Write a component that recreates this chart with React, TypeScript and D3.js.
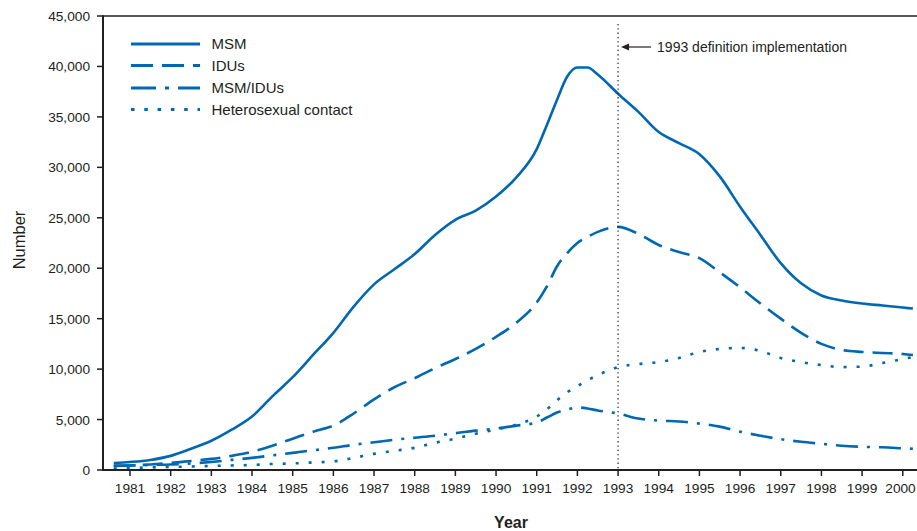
import React from "react";
import * as d3 from "d3";

const periods = [1980.6, 1981, 1981.5, 1982, 1982.5, 1983, 1983.5, 1984, 1984.5, 1985, 1985.5, 1986, 1986.5, 1987, 1987.5, 1988, 1988.5, 1989, 1989.5, 1990, 1990.5, 1991, 1991.25, 1991.5, 1991.75, 1992, 1992.25, 1992.5, 1993, 1993.5, 1994, 1994.5, 1995, 1995.5, 1996, 1996.5, 1997, 1997.5, 1998, 1998.5, 1999, 1999.5, 2000, 2000.25];

const msm = [700, 800, 1000, 1400, 2100, 2900, 4000, 5300, 7300, 9200, 11400, 13600, 16200, 18400, 19900, 21400, 23300, 24800, 25700, 27100, 29000, 31800, 34200, 36700, 39000, 39900, 39900, 39200, 37300, 35500, 33500, 32400, 31300, 29100, 26100, 23300, 20500, 18500, 17300, 16800, 16500, 16300, 16100, 16000];
const idus = [400, 450, 550, 700, 900, 1100, 1400, 1800, 2400, 3100, 3800, 4400, 5600, 7000, 8200, 9100, 10100, 11000, 12000, 13200, 14600, 16600, 18200, 20200, 21500, 22500, 23100, 23600, 24100, 23400, 22300, 21600, 21000, 19600, 18100, 16500, 15000, 13600, 12500, 11900, 11700, 11600, 11500, 11400];
const msmIdus = [450, 450, 500, 550, 650, 800, 1000, 1200, 1450, 1700, 1950, 2200, 2500, 2750, 3000, 3200, 3400, 3650, 3900, 4100, 4400, 4700, 5200, 5700, 6000, 6200, 6100, 5900, 5600, 5100, 4900, 4800, 4600, 4300, 3800, 3400, 3050, 2800, 2600, 2400, 2300, 2250, 2150, 2100];
const hetero = [150, 200, 250, 300, 350, 400, 450, 500, 600, 650, 750, 850, 1200, 1600, 1900, 2200, 2700, 3100, 3600, 4000, 4500, 5300, 6000, 6900, 7700, 8300, 8900, 9400, 10200, 10500, 10700, 11100, 11700, 12000, 12100, 11800, 11100, 10700, 10400, 10200, 10250, 10600, 11000, 11200];

const seriesNames = ["MSM", "IDUs", "MSM/IDUs", "Heterosexual contact"];
const seriesValues = [msm, idus, msmIdus, hetero];
const seriesDash = ["none", "20,9", "22,9,3,9", "3,10"];
const legendDash = ["none", "22,9", "25,9,4,9", "3.5,9.8"];

const yearTicks = d3.range(1981, 2001);
const valueTicks = d3.range(0, 45001, 5000);
const definitionYear = 1993;
const annotationText = "1993 definition implementation";

const W = 917;
const H = 531;
const left = 103;
const right = 917;
const top = 16;
const bottom = 470;
const COLOR = "#0067b1";
const INK = "#231f20";
const FONT = "'Liberation Sans', Arial, Helvetica, sans-serif";

export default function App() {
  const x = d3.scaleLinear().domain([1980.336, 2000.35]).range([left, right]);
  const y = d3.scaleLinear().domain([0, 45000]).range([bottom, top]);
  const fmt = d3.format(",");

  const line = d3
    .line<number>()
    .x((_, i) => x(periods[i]))
    .y((d) => y(d))
    .curve(d3.curveMonotoneX);

  const legendY = [44, 65.5, 88, 109.5];
  const xd = x(definitionYear);

  return (
    <svg
      width={W}
      height={H}
      style={{ position: "absolute", left: 0, top: 0, background: "#fff" }}
      fontFamily={FONT}
    >
      {seriesValues.map((vals, i) => (
        <path
          key={seriesNames[i]}
          d={line(vals) || ""}
          fill="none"
          stroke={COLOR}
          strokeWidth={2.6}
          strokeDasharray={seriesDash[i]}
          strokeLinecap="butt"
        />
      ))}

      <line x1={xd} x2={xd} y1={24} y2={bottom} stroke={INK} strokeWidth={1.2} strokeDasharray="1.3,3" />
      <line x1={xd + 10} x2={xd + 33} y1={47} y2={47} stroke={INK} strokeWidth={1.2} />
      <path d={`M${xd + 3},47 L${xd + 11},43.5 L${xd + 11},50.5 Z`} fill={INK} />
      <text x={xd + 39} y={52} fontSize={14} fill={INK}>
        {annotationText}
      </text>

      <line x1={left} x2={right} y1={top} y2={top} stroke={INK} strokeWidth={1.6} />
      <line x1={left} x2={left} y1={top - 0.8} y2={bottom + 1} stroke={INK} strokeWidth={2} />
      <line x1={left} x2={right} y1={bottom} y2={bottom} stroke={INK} strokeWidth={2} />

      {valueTicks.map((v) => (
        <g key={v}>
          <line x1={left - 6} x2={left} y1={y(v)} y2={y(v)} stroke={INK} strokeWidth={1.5} />
          <text x={left - 13} y={y(v) + 5} fontSize={13.7} textAnchor="end" fill={INK}>
            {fmt(v)}
          </text>
        </g>
      ))}

      {yearTicks.map((yr) => (
        <g key={yr}>
          <line x1={x(yr)} x2={x(yr)} y1={bottom} y2={bottom + 6} stroke={INK} strokeWidth={1.5} />
          <text x={Math.min(x(yr), 900.5)} y={bottom + 22.5} fontSize={13.7} textAnchor="middle" fill={INK}>
            {yr}
          </text>
        </g>
      ))}

      <text transform={`translate(24.5,240) rotate(-90)`} fontSize={16.5} textAnchor="middle" fill={INK}>
        Number
      </text>
      <text x={511} y={528} fontSize={16} fontWeight="bold" textAnchor="middle" fill={INK}>
        Year
      </text>

      {seriesNames.map((name, i) => (
        <g key={name}>
          <line
            x1={131}
            x2={200}
            y1={legendY[i]}
            y2={legendY[i]}
            stroke={COLOR}
            strokeWidth={2.8}
            strokeDasharray={legendDash[i]}
          />
          <text x={211.5} y={legendY[i] + 5.3} fontSize={15} fill={INK}>
            {name}
          </text>
        </g>
      ))}
    </svg>
  );
}
